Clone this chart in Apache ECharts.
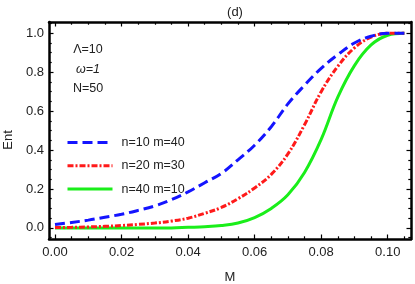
<!DOCTYPE html>
<html><head><meta charset="utf-8">
<script src="https://cdn.jsdelivr.net/npm/echarts@6/dist/echarts.min.js"></script>
<style>html,body{margin:0;padding:0;background:#fff}#c{width:415px;height:284px}</style>
</head><body><div id="c"></div>
<script>
const mValues = [0,0.005,0.01,0.015,0.02,0.025,0.03,0.035,0.04,0.045,0.05,0.055,0.06,0.065,0.07,0.075,0.08,0.085,0.09,0.095,0.1,0.105];
const entN10 = [0.017,0.028,0.04,0.055,0.07,0.09,0.113,0.145,0.185,0.232,0.28,0.35,0.425,0.52,0.637,0.733,0.82,0.89,0.95,0.985,1.0,1.0];
const entN20 = [0.002,0.003,0.005,0.008,0.012,0.018,0.025,0.035,0.05,0.075,0.105,0.15,0.205,0.275,0.38,0.53,0.70,0.83,0.925,0.98,1.0,1.0];
const entN40 = [0,0,0,0,0,0,0,0,0.003,0.006,0.012,0.025,0.053,0.1,0.17,0.285,0.455,0.672,0.834,0.94,0.99,1.0];
const seriesNames = ['n=10 m=40','n=20 m=30','n=40 m=10'];
const xMajor = [0,0.02,0.04,0.06,0.08,0.1];
const xMinor = [0.005,0.01,0.015,0.025,0.03,0.035,0.045,0.05,0.055,0.065,0.07,0.075,0.085,0.09,0.095,0.105];
const yMajor = [0,0.2,0.4,0.6,0.8,1.0];
const yMinor = [-0.05,0.05,0.1,0.15,0.25,0.3,0.35,0.45,0.5,0.55,0.65,0.7,0.75,0.85,0.9,0.95,1.05];

const chart = echarts.init(document.getElementById('c'));
const font = 'Liberation Sans';
const XMIN=-0.0018, XMAX=0.107, YMIN=-0.057, YMAX=1.058;
function xAx(pos, vals, len, labels, line){
  return {type:'value', position:pos, min:XMIN, max:XMAX,
    axisLine:{show:line, onZero:false, lineStyle:{color:'#000', width:2.5}},
    axisTick:{show:true, inside:true, length:len, customValues:vals, lineStyle:{color:'#000', width:1.2}},
    axisLabel:{show:labels, customValues:vals, formatter:v=>v.toFixed(2), color:'#222', fontFamily:font, fontSize:13, margin:7},
    splitLine:{show:false}};
}
function yAx(pos, vals, len, labels, line){
  return {type:'value', position:pos, min:YMIN, max:YMAX,
    axisLine:{show:line, onZero:false, lineStyle:{color:'#000', width:2.5}},
    axisTick:{show:true, inside:true, length:len, customValues:vals, lineStyle:{color:'#000', width:1.2}},
    axisLabel:{show:labels, customValues:vals, formatter:v=>v.toFixed(1), color:'#222', fontFamily:font, fontSize:13, margin:5},
    splitLine:{show:false}};
}
const mk = (arr)=>mValues.map((m,i)=>[m,arr[i]]);
chart.setOption({
  animation:false,
  title:{text:'(d)', left:230, top:1, textAlign:'center', textStyle:{fontFamily:font, fontSize:13, fontWeight:'normal', color:'#222'}},
  grid:{left:49, right:4, top:22, bottom:45},
  xAxis:[xAx('bottom',xMajor,4.5,true,true), xAx('bottom',xMinor,2.7,false,false), xAx('top',xMajor,4.5,false,true), xAx('top',xMinor,2.7,false,false)],
  yAxis:[yAx('left',yMajor,4.5,true,true), yAx('left',yMinor,2.7,false,false), yAx('right',yMajor,4.5,false,true), yAx('right',yMinor,2.7,false,false)],
  legend:{orient:'vertical', left:61, top:131, itemWidth:45, itemHeight:14, itemGap:10.3,
    itemStyle:{opacity:0, borderWidth:0}, lineStyle:{width:3},
    textStyle:{fontFamily:font, fontSize:12.5, color:'#222', padding:[0,0,0,4]}, data:seriesNames},
  graphic:[
    {type:'text', x:88, y:50, style:{text:'Λ=10', font:'12.5px Liberation Sans', fill:'#222', align:'center', verticalAlign:'middle'}},
    {type:'text', x:88, y:70, style:{text:'ω=1', font:'italic 12.5px Liberation Sans', fill:'#222', align:'center', verticalAlign:'middle'}},
    {type:'text', x:88, y:89, style:{text:'N=50', font:'12.5px Liberation Sans', fill:'#222', align:'center', verticalAlign:'middle'}},
    {type:'text', x:230, y:277, style:{text:'M', font:'13px Liberation Sans', fill:'#222', align:'center', verticalAlign:'middle'}},
    {type:'text', x:8, y:140, rotation:Math.PI/2, style:{text:'Ent', font:'13px Liberation Sans', fill:'#222', align:'center', verticalAlign:'middle'}}
  ],
  series:[
    {name:seriesNames[0], type:'line', data:mk(entN10), smooth:0.4, showSymbol:false, symbol:'none', z:3,
      lineStyle:{color:'#1414ff', width:3, type:[10,5]}, itemStyle:{color:'#1414ff'}},
    {name:seriesNames[1], type:'line', data:mk(entN20), smooth:0.4, showSymbol:false, symbol:'none', z:2,
      lineStyle:{color:'#ff1a1a', width:3, type:[6,2,2,2]}, itemStyle:{color:'#ff1a1a'}},
    {name:seriesNames[2], type:'line', data:mk(entN40), smooth:0.4, showSymbol:false, symbol:'none', z:1,
      lineStyle:{color:'#1aee1a', width:3, type:'solid'}, itemStyle:{color:'#1aee1a'}}
  ]
});
</script></body></html>
